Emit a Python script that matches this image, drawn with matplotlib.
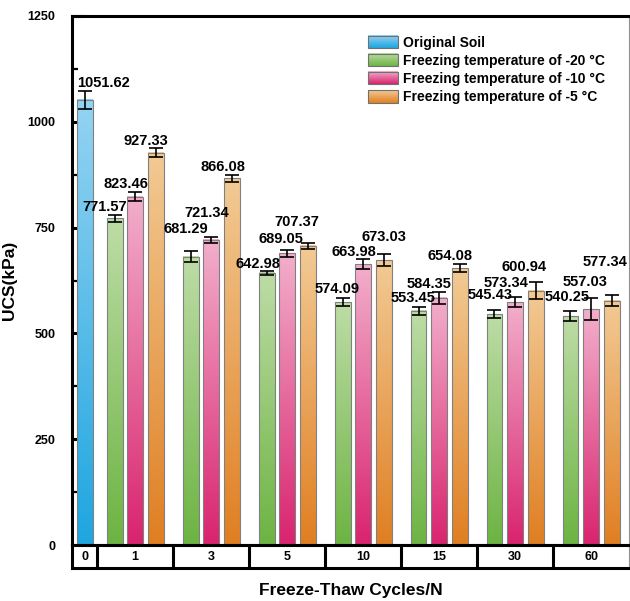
import numpy as np
import matplotlib
matplotlib.use('Agg')
from matplotlib import pyplot as plt
from matplotlib.patches import Patch, Rectangle
from matplotlib.legend_handler import HandlerBase
from matplotlib.image import BboxImage
from matplotlib.transforms import Bbox, TransformedBbox
from matplotlib.ticker import MultipleLocator

plt.rcParams['font.family'] = ['Liberation Sans', 'DejaVu Sans']
plt.rcParams['font.weight'] = 'bold'

# data
cycles = ['0', '1', '3', '5', '10', '15', '30', '60']
original = 1051.62
original_err = 22
t20 = [771.57, 681.29, 642.98, 574.09, 553.45, 545.43, 540.25]
t10 = [823.46, 721.34, 689.05, 663.98, 584.35, 573.34, 557.03]
t5 = [927.33, 866.08, 707.37, 673.03, 654.08, 600.94, 577.34]
t20_err = [8, 13, 5, 9, 9, 10, 12]
t10_err = [10, 7, 8, 12, 14, 12, 26]
t5_err = [10, 9, 7, 14, 10, 20, 13]
labels = ['Original Soil', 'Freezing temperature of -20 °C',
          'Freezing temperature of -10 °C', 'Freezing temperature of -5 °C']

# label offsets (pixels) relative to bar top, hand placed like the original
orig_off = (19, 17)
t20_off = [(-10, 11), (-5, 28), (-9, 9), (-5, 13), (-5, 13), (-4, 19), (-3, 19)]
t10_off = [(-9, 13), (-4, 27), (-6, 14), (-9, 12), (-10, 14), (-9, 19), (-6, 27)]
t5_off = [(-10, 12), (-9, 11), (-11, 24), (0, 23), (-10, 12), (-11, 24), (-6, 39)]

# gradient colours (top, bottom)
grads = {
    'blue': ('#94d3f2', '#1fa6e0'),
    'green': ('#bddca6', '#6db443'),
    'pink': ('#f2aecb', '#d9246f'),
    'orange': ('#f2ca94', '#e07f22'),
}


def grad_array(top, bot, n=64):
    a = np.array(matplotlib.colors.to_rgb(top))
    b = np.array(matplotlib.colors.to_rgb(bot))
    t = np.linspace(0, 1, n)[:, None]
    return (a * (1 - t) + b * t)[:, None, :]


class GradientHandler(HandlerBase):
    def create_artists(self, legend, orig_handle, xdescent, ydescent,
                       width, height, fontsize, trans):
        bb = TransformedBbox(Bbox.from_bounds(-xdescent, -ydescent, width, height), trans)
        img = BboxImage(bb, interpolation='bilinear')
        img.set_data(orig_handle.grad)
        rect = Rectangle((-xdescent, -ydescent), width, height, facecolor='none',
                         edgecolor='#707070', lw=0.8, transform=trans)
        return [img, rect]


fig = plt.figure(figsize=(6.3, 6.01), dpi=100)
ax = fig.add_axes([72 / 630, 56 / 601, 557 / 630, 529 / 601])
strip = fig.add_axes([72 / 630, 33 / 601, 557 / 630, 23 / 601])

w0 = 0.33
bw = 0.21
pitch = 0.27
xmax = w0 + len(t20)


def draw_bar(x, h, err, colors, off, text):
    ax.imshow(grad_array(*colors), extent=(x - bw / 2, x + bw / 2, 0, h),
              aspect='auto', interpolation='bilinear', zorder=2)
    ax.bar(x, h, width=bw, fill=False, edgecolor='#808080', lw=0.8, zorder=3)
    ax.errorbar(x, h, yerr=err, fmt='none', ecolor='black', elinewidth=1.2,
                capsize=5, capthick=1.2, zorder=4)
    ax.annotate(text, xy=(x, h), xytext=off, textcoords='offset pixels',
                ha='center', va='center', fontsize=10.5, fontweight='bold', zorder=5)


draw_bar(w0 / 2, original, original_err, grads['blue'], orig_off, f'{original:.2f}')
for i in range(len(t20)):
    c = w0 + i + 0.5
    draw_bar(c - pitch, t20[i], t20_err[i], grads['green'], t20_off[i], f'{t20[i]:.2f}')
    draw_bar(c, t10[i], t10_err[i], grads['pink'], t10_off[i], f'{t10[i]:.2f}')
    draw_bar(c + pitch, t5[i], t5_err[i], grads['orange'], t5_off[i], f'{t5[i]:.2f}')

ax.set_xlim(0, xmax)
ax.set_ylim(0, 1250)
ax.set_xticks([])
ax.yaxis.set_major_locator(MultipleLocator(250))
ax.yaxis.set_minor_locator(MultipleLocator(125))
ax.tick_params(axis='y', which='major', direction='in', length=9.5, width=2.2,
               pad=12, labelsize=9)
ax.tick_params(axis='y', which='minor', direction='in', length=4.5, width=1.6)
for lab in ax.get_yticklabels():
    lab.set_fontweight('bold')
for s in ['left', 'top', 'bottom']:
    ax.spines[s].set_linewidth(2.2)
ax.spines['right'].set_linewidth(0.8)
ax.spines['right'].set_color('#909090')
ax.set_ylabel('UCS(kPa)', fontsize=12.5, fontweight='bold')
ax.yaxis.set_label_coords(-0.099, 0.5)

# legend with gradient patches
handles = []
for key in ['blue', 'green', 'pink', 'orange']:
    p = Patch()
    p.grad = grad_array(*grads[key])
    handles.append(p)
ax.legend(handles, labels, handler_map={Patch: GradientHandler()},
          loc='upper left', bbox_to_anchor=(0.531, 0.963), frameon=False,
          prop={'size': 10, 'weight': 'bold'}, handlelength=2.15, handleheight=1.0,
          handletextpad=0.4, labelspacing=0.3, borderpad=0, borderaxespad=0)

# category strip under the axis
strip.set_xlim(0, xmax)
strip.set_ylim(0, 1)
strip.set_xticks([])
strip.set_yticks([])
edges = [w0 + i for i in range(len(t20))]
strip.vlines(edges, 0, 1, colors='black', lw=2.2)
centers = [w0 / 2] + [w0 + i + 0.5 for i in range(len(t20))]
for cx, name in zip(centers, cycles):
    strip.text(cx, 0.5, name, ha='center', va='center', fontsize=9, fontweight='bold')
for s in ['left', 'top', 'bottom']:
    strip.spines[s].set_linewidth(2.2)
strip.spines['right'].set_linewidth(0.8)
strip.spines['right'].set_color('#909090')

fig.text((72 + 629) / 2 / 630, 11 / 601, 'Freeze-Thaw Cycles/N', ha='center', va='center',
         fontsize=12.5, fontweight='bold')

fig.savefig('out.png', dpi=100)
